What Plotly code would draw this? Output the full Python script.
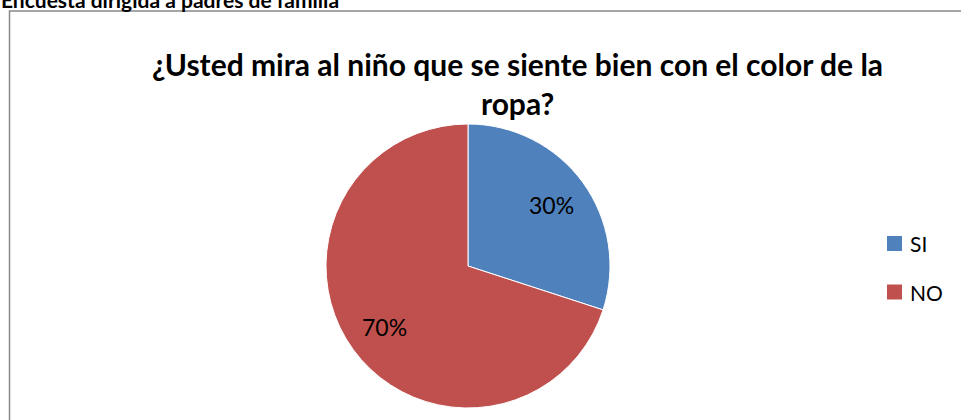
import math
import plotly.graph_objects as go

W, H = 961, 420

labels = ["SI", "NO"]
values = [30, 70]
colors = ["#4F81BD", "#C0504D"]
title_text = "¿Usted mira al niño que se siente bien con el color de la<br>ropa?"
header_text = "Encuesta dirigida a padres de familia"

def px(x):
    return x / W

def py(y):
    return 1 - y / H

# pie placement (pixels)
CX, CY, R = 468, 266, 142

fig = go.Figure(go.Pie(
    labels=labels,
    values=values,
    marker=dict(colors=colors, line=dict(color="white", width=1)),
    sort=False,
    direction="clockwise",
    rotation=0,
    textinfo="none",
    hoverinfo="label+percent",
    domain=dict(x=[px(CX - R), px(CX + R)], y=[py(CY + R), py(CY - R)]),
    showlegend=False,
))

annotations = []

# percentage labels placed along each slice's mid angle
total = sum(values)
cum = 0
for v in values:
    mid = (cum + v / 2) / total * 2 * math.pi
    cum += v
    lx = CX + 0.73 * R * math.sin(mid)
    ly = CY - 0.73 * R * math.cos(mid)
    annotations.append(dict(
        text=f"{round(100 * v / total)}%", xref="paper", yref="paper",
        x=px(lx), y=py(ly), xanchor="center", yanchor="middle",
        showarrow=False, font=dict(family="Lato", size=23, color="#000000")))

# legend (swatch + label per slice)
shapes = [dict(
    type="rect", xref="paper", yref="paper",
    x0=px(9.5), x1=px(975), y0=py(11), y1=py(440),
    line=dict(color="#898989", width=1.5),
    fillcolor="rgba(0,0,0,0)", layer="below",
)]
for i, (lab, col) in enumerate(zip(labels, colors)):
    yc = 243.5 + i * 48.5
    shapes.append(dict(
        type="rect", xref="paper", yref="paper",
        x0=px(887), x1=px(902), y0=py(yc + 7.5), y1=py(yc - 7.5),
        line=dict(width=0), fillcolor=col))
    annotations.append(dict(
        text=lab, xref="paper", yref="paper",
        x=px(908), y=py(yc), xanchor="left", yanchor="middle",
        showarrow=False, font=dict(family="Lato", size=21, color="#000000")))

annotations.append(dict(
    text="<b>" + title_text + "</b>", xref="paper", yref="paper",
    x=px(517), y=py(84), xanchor="center", yanchor="middle",
    showarrow=False, align="center",
    font=dict(family="Lato", size=30, color="#000000")))
annotations.append(dict(
    text="<b>" + header_text + "</b>", xref="paper", yref="paper",
    x=px(-1), y=py(-0.7), xanchor="left", yanchor="middle",
    showarrow=False, align="left",
    font=dict(family="Lato", size=21, color="#000000")))

fig.update_layout(
    width=W, height=H,
    margin=dict(l=0, r=0, t=0, b=0),
    paper_bgcolor="white",
    plot_bgcolor="white",
    font=dict(family="Lato", color="#000000"),
    showlegend=False,
    shapes=shapes,
    annotations=annotations,
)

fig.write_html(
    "out.html",
    config={"displayModeBar": False},
    post_script="document.body.style.margin='0';document.body.style.overflow='hidden';",
)
